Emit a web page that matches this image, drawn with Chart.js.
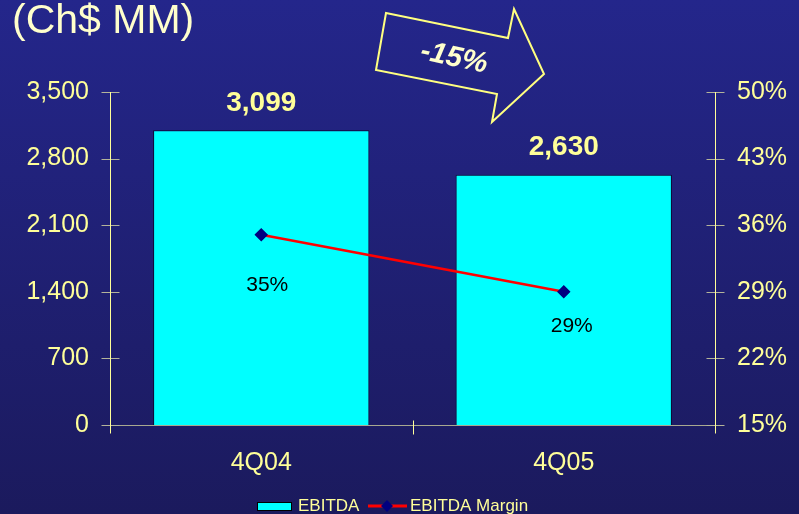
<!DOCTYPE html>
<html>
<head>
<meta charset="utf-8">
<title>EBITDA</title>
<script src="https://cdn.jsdelivr.net/npm/chart.js@4.4.1/dist/chart.umd.min.js"></script>
<style>
  html, body { margin: 0; padding: 0; background: #1b1a5e; overflow: hidden; }
  canvas { display: block; }
</style>
</head>
<body>
<canvas id="ebitdaChart" width="799" height="514"></canvas>
<script>
// dados do gráfico
const categories = ['4Q04', '4Q05'];
const ebitda = [3099, 2630];
const ebitdaMargin = [35, 29];
const leftTicks = [0, 700, 1400, 2100, 2800, 3500];
const rightTicks = [15, 22, 29, 36, 43, 50];
const titleText = '(Ch$ MM)';
const changeText = '-15%';

const FONT = "'Liberation Sans', Arial, sans-serif";
const YELLOW = '#ffff99';

// deslocamento dos rótulos da margem em relação ao ponto
const marginLabelDx = [6, 8];
const marginLabelDy = [50, 34];

// fundo em degradê
const backgroundPlugin = {
    id: 'background',
    beforeDraw(chart) {
        const ctx = chart.ctx;
        const g = ctx.createLinearGradient(0, 0, 0, chart.height);
        g.addColorStop(0, '#24268b');
        g.addColorStop(1, '#1b1a5d');
        ctx.save();
        ctx.fillStyle = g;
        ctx.fillRect(0, 0, chart.width, chart.height);
        ctx.restore();
    }
};

// eixos, marcas, rótulos, seta e legenda
const decorPlugin = {
    id: 'decor',
    afterDatasetsDraw(chart) {
        const ctx = chart.ctx;
        const area = chart.chartArea;
        const yL = chart.scales.y;
        const yR = chart.scales.y1;
        const x = chart.scales.x;
        const left = Math.round(area.left) + 0.5;
        const right = Math.round(area.right) + 0.5;
        const bottom = Math.round(area.bottom) + 0.5;

        ctx.save();
        // eixo X
        ctx.strokeStyle = '#a8a890';
        ctx.lineWidth = 1;
        ctx.beginPath();
        ctx.moveTo(left, bottom);
        ctx.lineTo(right, bottom);
        ctx.stroke();

        // marcas dos eixos Y (cruzando a linha)
        ctx.strokeStyle = '#b4b49a';
        leftTicks.forEach(v => {
            const py = Math.round(yL.getPixelForValue(v)) + 0.5;
            ctx.beginPath();
            ctx.moveTo(left - 9, py);
            ctx.lineTo(left + 9, py);
            ctx.stroke();
        });
        rightTicks.forEach(v => {
            const py = Math.round(yR.getPixelForValue(v)) + 0.5;
            ctx.beginPath();
            ctx.moveTo(right - 9, py);
            ctx.lineTo(right + 9, py);
            ctx.stroke();
        });

        // linhas dos eixos Y
        ctx.strokeStyle = YELLOW;
        ctx.beginPath();
        ctx.moveTo(left, Math.round(area.top));
        ctx.lineTo(left, bottom + 8);
        ctx.moveTo(right, Math.round(area.top));
        ctx.lineTo(right, bottom + 8);
        // marca entre as categorias
        const mid = Math.round((x.getPixelForValue(0) + x.getPixelForValue(1)) / 2) + 0.5;
        ctx.moveTo(mid, bottom - 5);
        ctx.lineTo(mid, bottom + 9);
        ctx.stroke();

        // valores das barras
        const barMeta = chart.getDatasetMeta(0);
        ctx.fillStyle = YELLOW;
        ctx.font = 'bold 28px ' + FONT;
        ctx.textAlign = 'center';
        ctx.textBaseline = 'middle';
        barMeta.data.forEach((bar, i) => {
            ctx.fillText(ebitda[i].toLocaleString('en-US'), bar.x, bar.y - 27);
        });

        // valores da margem
        const lineMeta = chart.getDatasetMeta(1);
        ctx.fillStyle = '#000000';
        ctx.font = '21px ' + FONT;
        lineMeta.data.forEach((pt, i) => {
            ctx.fillText(ebitdaMargin[i] + '%', pt.x + marginLabelDx[i], pt.y + marginLabelDy[i]);
        });

        // título
        ctx.fillStyle = '#ffffcc';
        ctx.font = '41px ' + FONT;
        ctx.textAlign = 'left';
        ctx.textBaseline = 'alphabetic';
        ctx.fillText(titleText, 12, 33);

        // seta de variação
        const arrow = [[386, 13], [508, 38], [514, 9], [544, 74], [492, 122], [497, 94], [376, 70]];
        ctx.strokeStyle = '#ffff80';
        ctx.lineWidth = 2;
        ctx.lineJoin = 'miter';
        ctx.beginPath();
        arrow.forEach((p, i) => (i ? ctx.lineTo(p[0], p[1]) : ctx.moveTo(p[0], p[1])));
        ctx.closePath();
        ctx.stroke();

        ctx.save();
        ctx.translate(454, 58);
        ctx.rotate(12 * Math.PI / 180);
        ctx.fillStyle = '#ffffcc';
        ctx.font = 'italic bold 29px ' + FONT;
        ctx.textAlign = 'center';
        ctx.textBaseline = 'middle';
        ctx.fillText(changeText, 0, 0);
        ctx.restore();

        // legenda
        const ly = 506;
        ctx.fillStyle = '#00ffff';
        ctx.fillRect(257, 502, 35, 9);
        ctx.strokeStyle = '#000000';
        ctx.lineWidth = 1;
        ctx.strokeRect(257.5, 502.5, 34, 8);

        ctx.font = '17px ' + FONT;
        ctx.fillStyle = YELLOW;
        ctx.textBaseline = 'middle';
        ctx.fillText(chart.data.datasets[0].label, 298, ly);

        ctx.strokeStyle = '#ff0000';
        ctx.lineWidth = 3;
        ctx.beginPath();
        ctx.moveTo(368, ly);
        ctx.lineTo(407, ly);
        ctx.stroke();
        ctx.fillStyle = '#000080';
        ctx.beginPath();
        ctx.moveTo(387, ly - 6);
        ctx.lineTo(393, ly);
        ctx.lineTo(387, ly + 6);
        ctx.lineTo(381, ly);
        ctx.closePath();
        ctx.fill();

        ctx.fillStyle = YELLOW;
        ctx.fillText(chart.data.datasets[1].label, 410, ly);
        ctx.restore();
    }
};

function renderChart() {
    const ctx = document.getElementById('ebitdaChart').getContext('2d');
    return new Chart(ctx, {
        data: {
            labels: categories,
            datasets: [{
                type: 'bar',
                label: 'EBITDA',
                data: ebitda,
                yAxisID: 'y',
                backgroundColor: '#00ffff',
                borderColor: '#0a0a30',
                borderWidth: 1,
                barPercentage: 1,
                categoryPercentage: 0.715,
                order: 2
            }, {
                type: 'line',
                label: 'EBITDA Margin',
                data: ebitdaMargin,
                yAxisID: 'y1',
                borderColor: '#ff0000',
                borderWidth: 2.5,
                pointStyle: 'rectRot',
                pointRadius: 5,
                pointBackgroundColor: '#000080',
                pointBorderColor: '#000080',
                tension: 0,
                order: 1
            }]
        },
        options: {
            responsive: false,
            animation: false,
            layout: { padding: { top: 92, bottom: 0, left: 0, right: 0 } },
            plugins: {
                legend: { display: false },
                tooltip: { enabled: false }
            },
            scales: {
                x: {
                    offset: true,
                    grid: { display: false, drawTicks: false },
                    border: { display: false },
                    ticks: {
                        color: YELLOW,
                        font: { family: FONT, size: 25 },
                        padding: 23
                    },
                    afterFit: s => { s.height = 89; }
                },
                y: {
                    position: 'left',
                    min: 0,
                    max: 3500,
                    grid: { display: false, drawTicks: false },
                    border: { display: false },
                    afterBuildTicks: s => { s.ticks = leftTicks.map(v => ({ value: v })); },
                    ticks: {
                        color: YELLOW,
                        font: { family: FONT, size: 25 },
                        padding: 21,
                        callback: v => v.toLocaleString('en-US')
                    },
                    afterFit: s => { s.width = 110; }
                },
                y1: {
                    position: 'right',
                    min: 15,
                    max: 50,
                    grid: { display: false, drawTicks: false },
                    border: { display: false },
                    afterBuildTicks: s => { s.ticks = rightTicks.map(v => ({ value: v })); },
                    ticks: {
                        color: YELLOW,
                        font: { family: FONT, size: 25 },
                        padding: 22,
                        callback: v => v + '%'
                    },
                    afterFit: s => { s.width = 84; }
                }
            }
        },
        plugins: [backgroundPlugin, decorPlugin]
    });
}

document.addEventListener('DOMContentLoaded', function () {
    renderChart();
});
</script>
</body>
</html>
